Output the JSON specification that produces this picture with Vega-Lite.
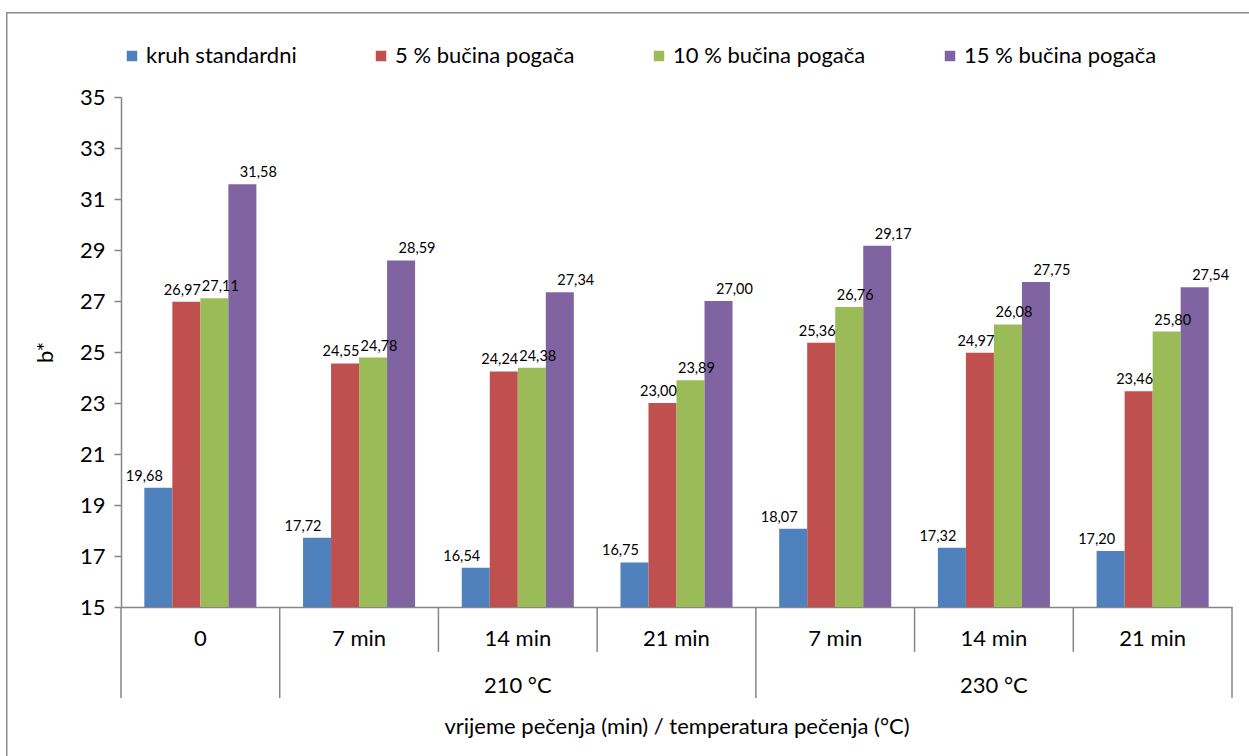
{
  "$schema": "https://vega.github.io/schema/vega-lite/v6.json",
  "width": 1111,
  "height": 510,
  "autosize": {"type": "none"},
  "padding": {"left": 121, "top": 97, "right": 17, "bottom": 149},
  "background": "white",
  "config": {
    "locale": {"number": {"decimal": ",", "thousands": ".", "grouping": [3], "currency": ["", " €"]}},
    "view": {"stroke": null},
    "font": "Lato",
    "text": {"font": "Lato"}
  },
  "datasets": {
    "bars": [
      {"grp": "1", "series": "kruh standardni", "value": 19.68},
      {"grp": "1", "series": "5 % bučina pogača", "value": 26.97},
      {"grp": "1", "series": "10 % bučina pogača", "value": 27.11},
      {"grp": "1", "series": "15 % bučina pogača", "value": 31.58},
      {"grp": "2", "series": "kruh standardni", "value": 17.72},
      {"grp": "2", "series": "5 % bučina pogača", "value": 24.55},
      {"grp": "2", "series": "10 % bučina pogača", "value": 24.78},
      {"grp": "2", "series": "15 % bučina pogača", "value": 28.59},
      {"grp": "3", "series": "kruh standardni", "value": 16.54},
      {"grp": "3", "series": "5 % bučina pogača", "value": 24.24},
      {"grp": "3", "series": "10 % bučina pogača", "value": 24.38},
      {"grp": "3", "series": "15 % bučina pogača", "value": 27.34},
      {"grp": "4", "series": "kruh standardni", "value": 16.75},
      {"grp": "4", "series": "5 % bučina pogača", "value": 23.00},
      {"grp": "4", "series": "10 % bučina pogača", "value": 23.89},
      {"grp": "4", "series": "15 % bučina pogača", "value": 27.00},
      {"grp": "5", "series": "kruh standardni", "value": 18.07},
      {"grp": "5", "series": "5 % bučina pogača", "value": 25.36},
      {"grp": "5", "series": "10 % bučina pogača", "value": 26.76},
      {"grp": "5", "series": "15 % bučina pogača", "value": 29.17},
      {"grp": "6", "series": "kruh standardni", "value": 17.32},
      {"grp": "6", "series": "5 % bučina pogača", "value": 24.97},
      {"grp": "6", "series": "10 % bučina pogača", "value": 26.08},
      {"grp": "6", "series": "15 % bučina pogača", "value": 27.75},
      {"grp": "7", "series": "kruh standardni", "value": 17.20},
      {"grp": "7", "series": "5 % bučina pogača", "value": 23.46},
      {"grp": "7", "series": "10 % bučina pogača", "value": 25.80},
      {"grp": "7", "series": "15 % bučina pogača", "value": 27.54}
    ],
    "seps": [
      {"pos": 0, "top": 15, "bottom": 11.43},
      {"pos": 1, "top": 15, "bottom": 11.43},
      {"pos": 2, "top": 15, "bottom": 13.24},
      {"pos": 3, "top": 15, "bottom": 13.24},
      {"pos": 4, "top": 15, "bottom": 11.43},
      {"pos": 5, "top": 15, "bottom": 13.24},
      {"pos": 6, "top": 15, "bottom": 13.24},
      {"pos": 7, "top": 15, "bottom": 11.43}
    ],
    "level2": [
      {"pos": 2.5, "ypos": 11.9, "label": "210 °C"},
      {"pos": 5.5, "ypos": 11.9, "label": "230 °C"}
    ],
    "frame": [
      {"x1": -0.72, "x2": 7.4, "y1": 38.3, "y2": 8.5}
    ]
  },
  "layer": [
    {
      "data": {"name": "bars"},
      "encoding": {
        "x": {
          "field": "grp",
          "type": "nominal",
          "sort": ["1", "2", "3", "4", "5", "6", "7"],
          "scale": {"paddingInner": 0.294, "paddingOuter": 0.147},
          "axis": {
            "labelExpr": "split('0|7 min|14 min|21 min|7 min|14 min|21 min', '|')[toNumber(datum.value) - 1]",
            "labelAngle": 0,
            "labelFontSize": 22,
            "labelColor": "#000000",
            "labelPadding": 21,
            "ticks": false,
            "domainColor": "#868686",
            "domainWidth": 1.5,
            "title": "vrijeme pečenja (min) / temperatura pečenja (°C)",
            "titleFontSize": 22,
            "titleFontWeight": "normal",
            "titleColor": "#000000",
            "titlePadding": 67
          }
        },
        "y": {
          "field": "value",
          "type": "quantitative",
          "scale": {"domain": [15, 35], "nice": false, "zero": false},
          "axis": {
            "values": [15, 17, 19, 21, 23, 25, 27, 29, 31, 33, 35],
            "grid": false,
            "domainColor": "#868686",
            "domainWidth": 1.5,
            "tickColor": "#868686",
            "tickSize": 7,
            "tickWidth": 1.5,
            "labelFontSize": 22,
            "labelColor": "#000000",
            "labelPadding": 9,
            "title": "b*",
            "titleFontSize": 22,
            "titleFontWeight": "normal",
            "titleColor": "#000000",
            "titlePadding": 22
          }
        }
      },
      "layer": [
        {
          "mark": {"type": "bar"},
          "encoding": {
            "xOffset": {
              "field": "series",
              "type": "nominal",
              "sort": ["kruh standardni", "5 % bučina pogača", "10 % bučina pogača", "15 % bučina pogača"],
              "scale": {"paddingInner": 0, "paddingOuter": 0}
            },
            "y2": {"datum": 15},
            "color": {
              "field": "series",
              "type": "nominal",
              "scale": {
                "domain": ["kruh standardni", "5 % bučina pogača", "10 % bučina pogača", "15 % bučina pogača"],
                "range": ["#4F81BD", "#C0504D", "#9BBB59", "#8064A2"]
              },
              "legend": {
                "orient": "none",
                "legendX": 0,
                "legendY": -52,
                "direction": "horizontal",
                "title": null,
                "symbolType": "square",
                "symbolSize": 110,
                "symbolStrokeWidth": 0,
                "labelFontSize": 22,
                "labelColor": "#000000",
                "labelOffset": 3,
                "columnPadding": 73,
                "labelLimit": 400
              }
            }
          }
        },
        {
          "mark": {"type": "text", "baseline": "bottom", "dy": -4, "fontSize": 14.5, "color": "#000000"},
          "encoding": {
            "xOffset": {
              "field": "series",
              "type": "nominal",
              "sort": ["kruh standardni", "5 % bučina pogača", "10 % bučina pogača", "15 % bučina pogača"],
              "scale": {"type": "point", "range": [0, 114], "padding": 0}
            },
            "text": {"field": "value", "type": "quantitative", "format": ".2f"}
          }
        }
      ],
      "resolve": {"scale": {"xOffset": "independent"}}
    },
    {
      "encoding": {},
      "layer": [
        {
          "data": {"name": "seps"},
          "mark": {"type": "rule", "color": "#868686", "strokeWidth": 1.5},
          "encoding": {
            "x": {"field": "pos", "type": "quantitative", "scale": {"domain": [0, 7], "nice": false, "zero": false}, "axis": null},
            "y": {"field": "top", "type": "quantitative", "axis": null},
            "y2": {"field": "bottom"}
          }
        },
        {
          "data": {"name": "level2"},
          "mark": {"type": "text", "fontSize": 22, "baseline": "middle", "align": "center", "color": "#000000"},
          "encoding": {
            "x": {"field": "pos", "type": "quantitative", "axis": null},
            "y": {"field": "ypos", "type": "quantitative", "axis": null},
            "text": {"field": "label"}
          }
        },
        {
          "data": {"name": "frame"},
          "mark": {"type": "rect", "fill": null, "stroke": "#8a8a8a", "strokeWidth": 1.5},
          "encoding": {
            "x": {"field": "x1", "type": "quantitative", "axis": null},
            "x2": {"field": "x2"},
            "y": {"field": "y1", "type": "quantitative", "axis": null},
            "y2": {"field": "y2"}
          }
        }
      ]
    }
  ],
  "resolve": {"scale": {"x": "independent"}, "axis": {"x": "independent", "y": "independent"}}
}
